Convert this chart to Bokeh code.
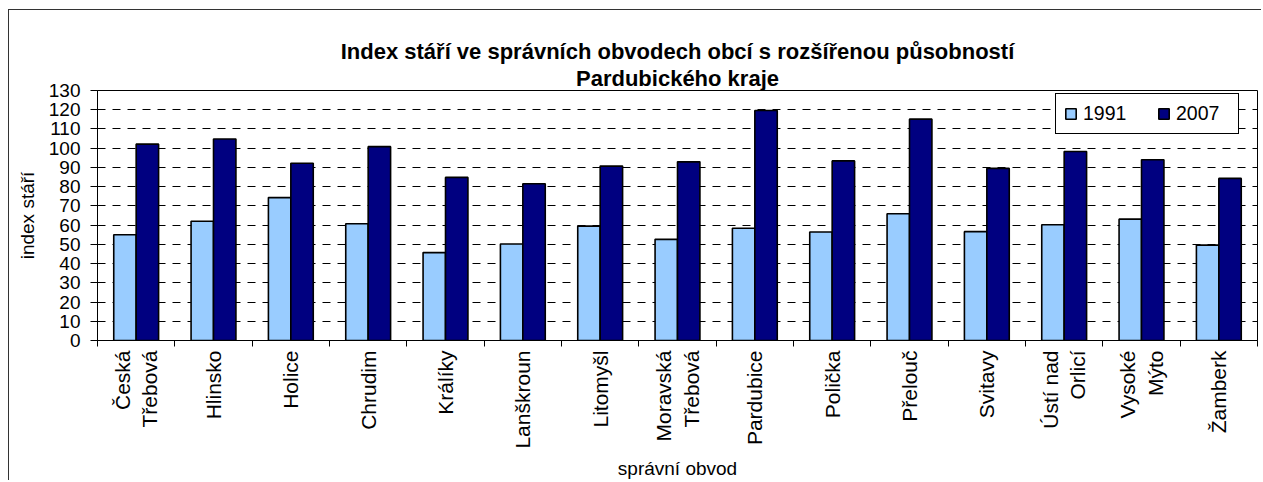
from math import pi
from bokeh.plotting import figure
from bokeh.models import (ColumnDataSource, FactorRange, Range1d, LinearAxis, CategoricalAxis,
                          FixedTicker, Legend, LegendItem, Title)
from bokeh.transform import dodge
from bokeh.embed import file_html
from bokeh.resources import INLINE

# ---- data ----
cities = ["Česká\nTřebová", "Hlinsko", "Holice", "Chrudim", "Králíky", "Lanškroun", "Litomyšl",
          "Moravská\nTřebová", "Pardubice", "Polička", "Přelouč", "Svitavy", "Ústí nad\nOrlicí",
          "Vysoké\nMýto", "Žamberk"]
v1991 = [55.0, 62.0, 74.3, 60.7, 45.7, 50.2, 59.5, 52.6, 58.4, 56.4, 65.9, 56.6, 60.2, 63.1, 49.6]
v2007 = [102.1, 104.8, 92.2, 100.8, 84.8, 81.5, 90.7, 92.9, 119.6, 93.4, 115.1, 89.5, 98.3, 94.0, 84.3]
years = ["1991", "2007"]
y_ticks = [0, 10, 20, 30, 40, 50, 60, 70, 80, 90, 100, 110, 120, 130]
# category boundaries in the factor range's synthetic coordinates
boundaries = [0, 1, 2, 3, 4, 5, 6, 7, 8, 9, 10, 11, 12, 13, 14, 15]
title_line1 = "Index stáří ve správních obvodech obcí s rozšířenou působností"
title_line2 = "Pardubického kraje"
x_label = "správní obvod"
y_label = "index stáří"

FONT = "Liberation Sans"
C1991 = "#99CCFF"
C2007 = "#000080"

src = ColumnDataSource(data=dict(city=cities, v1991=v1991, v2007=v2007))

p = figure(x_range=FactorRange(*cities, range_padding=0), y_range=Range1d(0, 130),
           width=1253, height=471, output_backend="svg", toolbar_location=None,
           x_axis_location=None, min_border_left=88, min_border_right=5,
           min_border_top=80, min_border_bottom=139)
p.styles = {"margin-left": "8px", "margin-top": "9px",
            "border-left": "1px solid #333333", "border-top": "1px solid #333333"}
p.background_fill_color = "white"
p.border_fill_color = "white"
p.outline_line_color = "black"
p.outline_line_width = 1
p.outline_line_alpha = 1

r1 = p.vbar(x=dodge("city", -0.145, range=p.x_range), top="v1991", width=0.29, source=src,
            fill_color=C1991, line_color="black", line_width=1.6)
r2 = p.vbar(x=dodge("city", 0.145, range=p.x_range), top="v2007", width=0.29, source=src,
            fill_color=C2007, line_color="black", line_width=1.6)

# y axis
yt = FixedTicker(ticks=y_ticks)
yax = p.yaxis[0]
yax.ticker = yt
yax.major_tick_out = 7
yax.major_tick_in = 0
yax.minor_tick_line_color = None
yax.major_label_standoff = 10
yax.major_label_text_font = FONT
yax.major_label_text_font_size = "19px"
yax.major_label_text_color = "black"
yax.axis_line_color = "black"
yax.major_tick_line_color = "black"
yax.axis_label = y_label
yax.axis_label_text_font = FONT
yax.axis_label_text_font_size = "19px"
yax.axis_label_text_font_style = "normal"
yax.axis_label_text_color = "black"
yax.axis_label_standoff = 8

p.ygrid.ticker = yt
p.ygrid.grid_line_color = "black"
p.ygrid.grid_line_dash = "8 7"
p.ygrid.grid_line_width = 1
p.xgrid.visible = False

# boundary tick axis (tick marks between categories, no labels)
tick_ax = LinearAxis(ticker=FixedTicker(ticks=boundaries),
                     major_tick_out=6, major_tick_in=0, minor_tick_line_color=None,
                     major_label_overrides={b: "" for b in boundaries},
                     major_label_text_font_size="1px", major_label_text_color=None,
                     major_label_standoff=0,
                     axis_line_color="black", major_tick_line_color="black")
p.add_layout(tick_ax, "below")

cat_ax = CategoricalAxis(axis_line_color=None, major_tick_line_color=None,
                         major_tick_in=0, major_tick_out=0,
                         major_label_orientation=pi / 2, major_label_standoff=4,
                         major_label_text_font=FONT, major_label_text_font_size="21px",
                         major_label_text_color="black",
                         axis_label=x_label, axis_label_text_font=FONT,
                         axis_label_text_font_size="19px", axis_label_text_font_style="normal",
                         axis_label_text_color="black", axis_label_standoff=6)
p.add_layout(cat_ax, "below")

# invisible spacer between the frame and the title lines
spacer = LinearAxis(ticker=FixedTicker(ticks=[]), major_tick_out=17, major_tick_in=0,
                    axis_line_color=None, major_tick_line_color=None,
                    minor_tick_line_color=None, major_label_text_color=None,
                    major_label_text_font_size="1px", major_label_standoff=0)
p.add_layout(spacer, "above")

# two-line title: second line added first (closest to the frame)
p.add_layout(Title(text=title_line2, align="center", text_font=FONT, text_font_size="22px",
                   text_font_style="bold", text_color="black",
                   standoff=0, offset=4), "above")
p.add_layout(Title(text=title_line1, align="center", text_font=FONT, text_font_size="22px",
                   text_font_style="bold", text_color="black",
                   standoff=0, offset=4), "above")

legend = Legend(items=[LegendItem(label=years[0], renderers=[r1]),
                       LegendItem(label=years[1], renderers=[r2])],
                orientation="horizontal", location=(958, 206), padding=8, spacing=20,
                label_standoff=6, glyph_width=13, glyph_height=13, label_width=54,
                label_text_font=FONT, label_text_font_size="19.5px", label_text_color="black",
                border_line_color="black", border_line_width=1, border_line_alpha=1,
                background_fill_color="white", background_fill_alpha=1, margin=0)
p.add_layout(legend)

open("out.html", "w").write(file_html(p, INLINE))
